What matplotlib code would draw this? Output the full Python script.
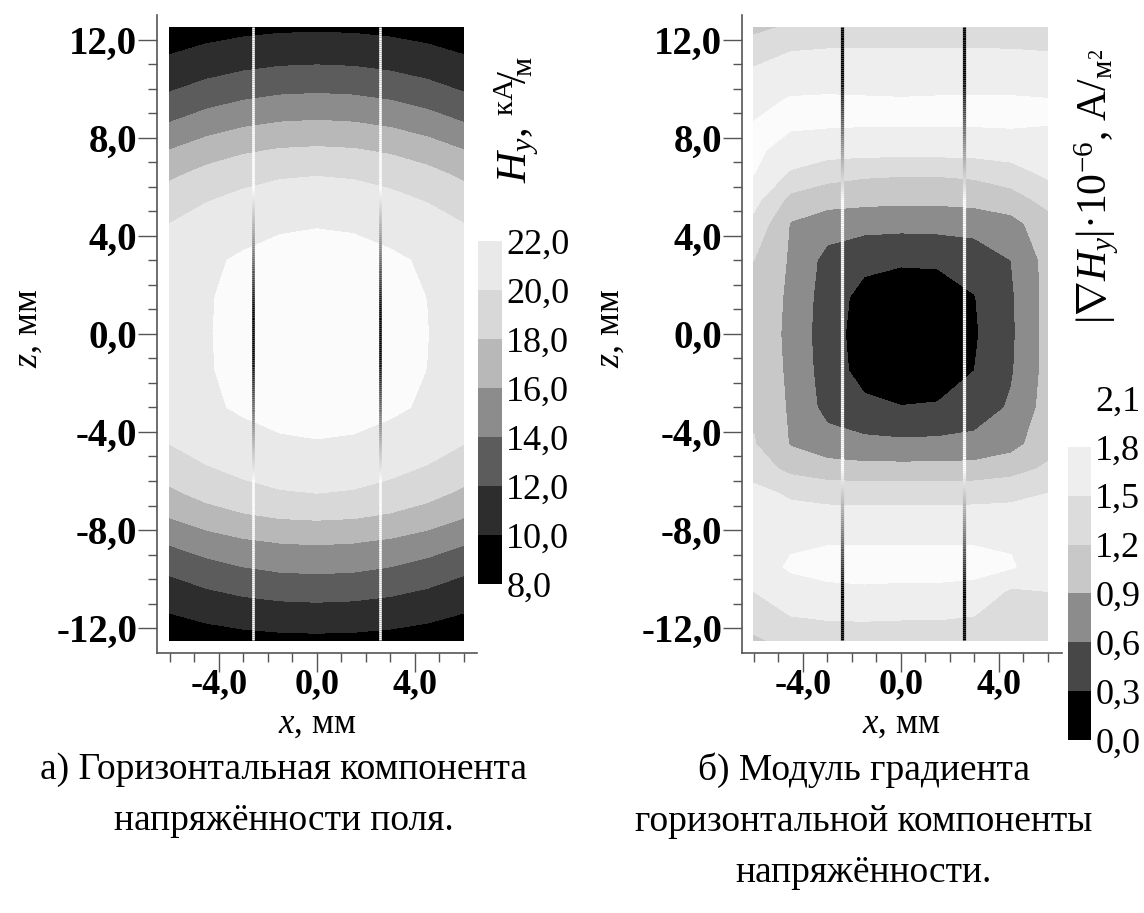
import numpy as np
import matplotlib.pyplot as plt
from matplotlib.colors import ListedColormap, BoundaryNorm
from matplotlib.collections import LineCollection
from matplotlib.cm import ScalarMappable

plt.rcParams['font.family'] = ['Liberation Serif', 'DejaVu Serif']
plt.rcParams['mathtext.fontset'] = 'custom'
plt.rcParams['mathtext.rm'] = 'Liberation Serif'
plt.rcParams['mathtext.it'] = 'Liberation Serif:italic'
plt.rcParams['mathtext.bf'] = 'Liberation Serif:bold'

# measurement grid, mm (rows from top z=12.5 down to z=-12.5)
x_mm = [-6.0, -4.5, -3.0, -1.5, 0.0, 1.5, 3.0, 4.5, 6.0]
z_mm = [12.5, 11.5, 10.5, 9.5, 8.5, 7.5, 6.5, 5.5, 4.5, 3.0, 1.5, 0.0,
        -1.5, -3.0, -4.5, -5.5, -6.5, -7.5, -8.5, -9.5, -10.5, -11.5, -12.5]

# Hy, kA/m
hy = [
    [8.70, 9.14, 9.45, 9.64, 9.70, 9.64, 9.45, 9.14, 8.70],
    [9.85, 10.42, 10.83, 11.08, 11.16, 11.08, 10.83, 10.42, 9.85],
    [11.10, 11.81, 12.32, 12.63, 12.73, 12.63, 12.32, 11.81, 11.10],
    [12.50, 13.40, 14.04, 14.42, 14.55, 14.42, 14.04, 13.40, 12.50],
    [14.20, 15.15, 15.84, 16.24, 16.38, 16.24, 15.84, 15.15, 14.20],
    [16.00, 16.98, 17.69, 18.11, 18.25, 18.11, 17.69, 16.98, 16.00],
    [17.60, 18.62, 19.34, 19.78, 19.92, 19.78, 19.34, 18.62, 17.60],
    [19.00, 19.84, 20.45, 20.81, 20.93, 20.81, 20.45, 19.84, 19.00],
    [20.00, 20.83, 21.43, 21.78, 21.90, 21.80, 21.45, 20.86, 20.00],
    [20.35, 21.75, 22.20, 22.50, 22.60, 22.52, 22.25, 21.80, 20.40],
    [20.60, 21.85, 22.50, 22.94, 23.10, 22.96, 22.58, 21.98, 20.75],
    [20.70, 21.86, 22.65, 23.14, 23.30, 23.16, 22.72, 22.05, 20.85],
    [20.60, 21.85, 22.50, 22.94, 23.10, 22.96, 22.58, 21.98, 20.75],
    [20.35, 21.75, 22.20, 22.50, 22.60, 22.52, 22.25, 21.80, 20.40],
    [20.00, 20.83, 21.43, 21.78, 21.90, 21.80, 21.45, 20.86, 20.00],
    [19.00, 19.83, 20.43, 20.78, 20.90, 20.78, 20.43, 19.83, 19.00],
    [17.60, 18.65, 19.40, 19.85, 20.00, 19.85, 19.40, 18.65, 17.60],
    [16.00, 16.96, 17.65, 18.06, 18.20, 18.06, 17.65, 16.96, 16.00],
    [14.20, 15.06, 15.68, 16.05, 16.17, 16.05, 15.68, 15.06, 14.20],
    [12.50, 13.38, 14.00, 14.38, 14.50, 14.38, 14.00, 13.38, 12.50],
    [11.10, 11.81, 12.32, 12.63, 12.73, 12.63, 12.32, 11.81, 11.10],
    [9.85, 10.39, 10.77, 11.00, 11.08, 11.00, 10.77, 10.39, 9.85],
    [8.70, 9.07, 9.34, 9.50, 9.55, 9.50, 9.34, 9.07, 8.70],
]

# |grad Hy| * 1e-6, A/m^2
grad_hy = [
    [1.10, 1.25, 1.27, 1.27, 1.25, 1.27, 1.30, 1.33, 1.35],
    [1.42, 1.50, 1.53, 1.54, 1.54, 1.54, 1.53, 1.52, 1.50],
    [1.55, 1.66, 1.68, 1.68, 1.68, 1.68, 1.67, 1.65, 1.62],
    [1.70, 1.83, 1.84, 1.83, 1.82, 1.83, 1.84, 1.84, 1.82],
    [1.82, 1.83, 1.82, 1.81, 1.81, 1.81, 1.81, 1.82, 1.80],
    [1.85, 1.70, 1.63, 1.61, 1.61, 1.61, 1.62, 1.65, 1.70],
    [1.80, 1.45, 1.30, 1.24, 1.22, 1.22, 1.25, 1.35, 1.55],
    [1.60, 1.12, 1.02, 0.99, 0.97, 0.97, 1.00, 1.08, 1.30],
    [1.42, 0.88, 0.74, 0.70, 0.69, 0.70, 0.72, 0.80, 1.08],
    [1.20, 0.86, 0.50, 0.38, 0.34, 0.35, 0.42, 0.60, 1.00],
    [1.12, 0.84, 0.45, 0.20, 0.12, 0.14, 0.29, 0.56, 1.00],
    [1.12, 0.82, 0.43, 0.165, 0.055, 0.09, 0.266, 0.55, 1.00],
    [1.12, 0.84, 0.45, 0.19, 0.12, 0.13, 0.30, 0.57, 1.00],
    [1.15, 0.86, 0.50, 0.37, 0.31, 0.33, 0.42, 0.64, 1.02],
    [1.22, 0.88, 0.73, 0.68, 0.66, 0.67, 0.70, 0.80, 1.08],
    [1.35, 1.12, 1.02, 0.99, 0.99, 0.99, 1.00, 1.08, 1.25],
    [1.60, 1.45, 1.40, 1.39, 1.39, 1.39, 1.40, 1.43, 1.50],
    [1.70, 1.63, 1.61, 1.61, 1.61, 1.61, 1.61, 1.61, 1.60],
    [1.72, 1.77, 1.79, 1.79, 1.79, 1.79, 1.79, 1.77, 1.70],
    [1.68, 1.83, 1.86, 1.87, 1.87, 1.87, 1.86, 1.83, 1.62],
    [1.50, 1.70, 1.76, 1.77, 1.76, 1.76, 1.74, 1.45, 1.50],
    [1.35, 1.50, 1.54, 1.55, 1.54, 1.54, 1.50, 1.35, 1.38],
    [1.15, 1.30, 1.32, 1.32, 1.30, 1.30, 1.30, 1.30, 1.30],
]

hy_levels = [8, 10, 12, 14, 16, 18, 20, 22, 24]
hy_colors = ['#000000', '#2d2d2d', '#5c5c5c', '#8c8c8c', '#b8b8b8', '#d8d8d8', '#e9e9e9', '#fbfbfb']
hy_ticks = [8, 10, 12, 14, 16, 18, 20, 22]

grad_levels = [0.0, 0.3, 0.6, 0.9, 1.2, 1.5, 1.8, 2.1]
grad_colors = ['#000000', '#474747', '#8c8c8c', '#c8c8c8', '#dcdcdc', '#eeeeee', '#fbfbfb']
grad_bar_colors = grad_colors[:-1] + ['#ffffff']

# sensor lines, mm
lines_a = [-2.6, 2.6]
lines_b = [-2.42, 2.58]

y_major = [-12, -8, -4, 0, 4, 8, 12]
x_major = [-4, 0, 4]


def comma(v, fmt='{:.1f}'):
    return fmt.format(v).replace('.', ',')


def grad_line(ax, x, shade, lw):
    zz = np.linspace(-12.5, 12.5, 301)
    segs = [[(x, zz[i]), (x, zz[i + 1])] for i in range(len(zz) - 1)]
    g = shade((zz[:-1] + zz[1:]) / 2)
    lc = LineCollection(segs, colors=np.c_[g, g, g], linewidths=lw, capstyle='butt', zorder=3)
    ax.add_collection(lc)


def setup_axes(ax, xlim):
    ax.set_xlim(*xlim)
    ax.set_ylim(-13.0, 13.0)
    for s in ['top', 'right']:
        ax.spines[s].set_visible(False)
    for s in ['left', 'bottom']:
        ax.spines[s].set_color('#555555')
        ax.spines[s].set_linewidth(1.2)
    ax.set_yticks(y_major)
    ax.set_yticklabels([comma(v) for v in y_major], fontweight='bold', fontsize=28)
    ax.set_yticks(np.arange(-12, 13, 1), minor=True)
    ax.set_xticks(x_major)
    ax.set_xticklabels([comma(v) for v in x_major], fontweight='bold', fontsize=26)
    ax.set_xticks(np.arange(-6, 7, 1), minor=True)
    ax.tick_params(which='major', length=14, width=1.0, color='#555555', pad=0)
    ax.tick_params(which='minor', length=6.5, width=1.0, color='#555555')
    ax.tick_params(axis='x', which='major', pad=-3)


fig = plt.figure(figsize=(11.44, 9.13), dpi=100)
ax1 = fig.add_axes([0.137, 0.2851, 0.2797, 0.6985])
ax2 = fig.add_axes([0.6483, 0.2851, 0.2797, 0.6985])

X = np.array(x_mm)
Z = np.array(z_mm)[::-1]

ax1.contourf(X, Z, np.array(hy)[::-1], levels=hy_levels, colors=hy_colors)
setup_axes(ax1, (-6.53, 6.53))
for xl in lines_a:
    grad_line(ax1, xl, lambda z: np.clip((np.abs(z) - 1.0) / 5.0, 0, 1), 1.9)

ax2.contourf(X, Z, np.array(grad_hy)[::-1], levels=grad_levels, colors=grad_colors)
setup_axes(ax2, (-6.5, 6.56))
for xl in lines_b:
    grad_line(ax2, xl, lambda z: np.clip((10.5 - np.abs(z)) / 5.0, 0, 1), 2.3)

# axis labels
for xc in [0.277, 0.7876]:
    fig.text(xc, 0.207, '$x$, мм', fontsize=25, ha='center', va='center')
for xc in [0.0245, 0.533]:
    fig.text(xc, 0.6407, '$z$, мм', fontsize=26, ha='center', va='center', rotation=90)

# colorbars
cax1 = fig.add_axes([0.4178, 0.3604, 0.021, 0.3757])
cb1 = fig.colorbar(ScalarMappable(norm=BoundaryNorm(hy_levels[:-1], 7),
                                  cmap=ListedColormap(hy_colors[:-1])),
                   cax=cax1, ticks=hy_ticks)
cb1.outline.set_visible(False)
cb1.set_ticklabels([comma(v) for v in hy_ticks])
cax1.tick_params(length=0, pad=3, labelsize=26)

cax2 = fig.add_axes([0.9333, 0.1895, 0.0204, 0.3746])
cb2 = fig.colorbar(ScalarMappable(norm=BoundaryNorm(grad_levels, 7),
                                  cmap=ListedColormap(grad_bar_colors)),
                   cax=cax2, ticks=grad_levels)
cb2.outline.set_visible(False)
cb2.set_ticklabels([comma(v) for v in grad_levels])
cax2.tick_params(length=0, pad=3, labelsize=26)

fig.text(0.452, 0.869, r'$H_y$, ${}^{\mathrm{кА}}\!/\!{}_{\mathrm{м}}$', rotation=90,
         fontsize=31, ha='center', va='center')
fig.text(0.959, 0.796, r'$|\nabla H_y|$·$10^{-6}$, $\mathrm{А}/_{\mathrm{м}^2}$', rotation=90,
         fontsize=30, ha='center', va='center')

# captions
fig.text(0.248, 0.176, 'а) Горизонтальная компонента\nнапряжённости поля.',
         ha='center', va='top', fontsize=27, linespacing=1.62)
fig.text(0.755, 0.176, 'б) Модуль градиента\nгоризонтальной компоненты\nнапряжённости.',
         ha='center', va='top', fontsize=27, linespacing=1.62)

fig.savefig('out.png', dpi=100, facecolor='white')
